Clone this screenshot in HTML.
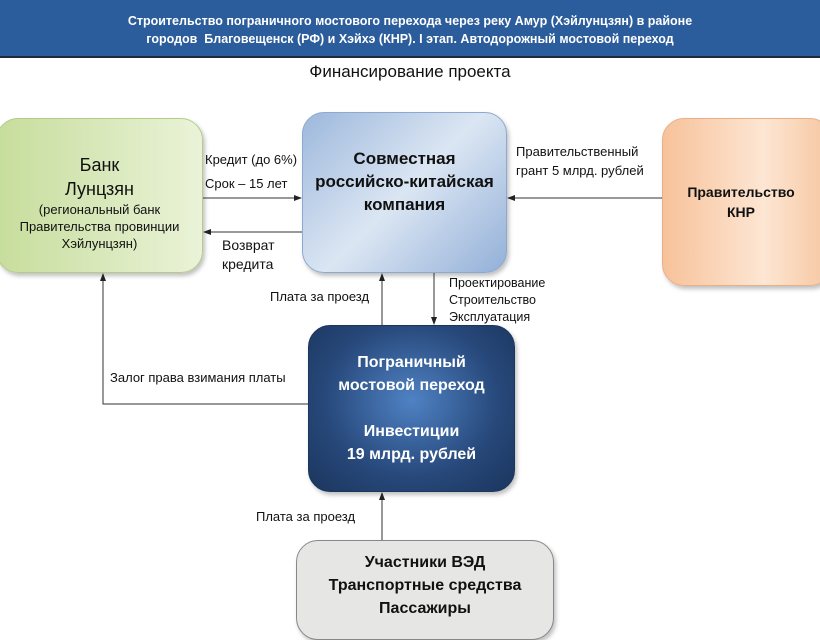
<!DOCTYPE html>
<html><head><meta charset="utf-8"><style>
body{margin:0;width:820px;height:617px;overflow:hidden;background:#fff;font-family:"Liberation Sans","DejaVu Sans",sans-serif;position:relative}
.hdr{position:absolute;left:0;top:0;width:820px;height:58px;background:#2b5c9c;border-bottom:2px solid #1c2a40;color:#fff;font-weight:bold;font-size:12.5px;text-align:center;line-height:18px;padding-top:12px;box-sizing:border-box}
.t{position:absolute;font-size:13px;color:#111;line-height:19px}
.box{position:absolute;border-radius:22px;display:flex;align-items:center;justify-content:center;text-align:center;box-sizing:border-box;box-shadow:2px 3px 4px rgba(0,0,0,.25)}
</style></head><body>
<div class="hdr">Строительство пограничного мостового перехода через реку Амур (Хэйлунцзян) в районе<br>городов&nbsp; Благовещенск (РФ) и Хэйхэ (КНР). I этап. Автодорожный мостовой переход</div>
<div class="t" style="left:0;width:820px;top:62px;text-align:center;font-size:17px">Финансирование проекта</div>

<div class="box" style="left:-4px;top:118px;width:207px;height:155px;background:linear-gradient(90deg,#c7dd9c,#eaf3d8);border:1px solid #b5cc88"><div style="font-size:18px;line-height:24px;color:#111;margin-top:14px">Банк<br>Лунцзян<div style="font-size:13px;line-height:17px">(региональный банк<br>Правительства провинции<br>Хэйлунцзян)</div></div></div>

<div class="box" style="left:302px;top:112px;width:205px;height:161px;background:linear-gradient(135deg,#9db8dc,#dbe6f3 50%,#93b0d8);border:1px solid #8ea9cf"><div style="font-size:17px;font-weight:bold;line-height:23px;color:#111;margin-top:-22px">Совместная<br>российско-китайская<br>компания</div></div>

<div class="box" style="left:662px;top:118px;width:170px;height:168px;background:linear-gradient(90deg,#f7c29a,#fde6d3 60%,#f6c6a0);border:1px solid #e8b088"><div style="font-size:14px;font-weight:bold;line-height:20px;color:#111;margin-right:12px">Правительство<br>КНР</div></div>

<div class="box" style="left:308px;top:325px;width:207px;height:167px;background:radial-gradient(ellipse at 50% 45%,#4f82c4,#27487a 60%,#1b355d);border:1px solid #1b355d"><div style="font-size:16px;font-weight:bold;line-height:23px;color:#fff">Пограничный<br>мостовой переход<br><br>Инвестиции<br>19 млрд. рублей</div></div>

<div class="box" style="left:296px;top:540px;width:258px;height:100px;background:#e6e6e4;border:1px solid #888;align-items:flex-start;padding-top:10px"><div style="font-size:16px;font-weight:bold;line-height:23px;color:#111">Участники ВЭД<br>Транспортные средства<br>Пассажиры</div></div>

<svg width="820" height="617" style="position:absolute;left:0;top:0" fill="none" stroke="#333" stroke-width="1">
<defs><marker id="a" markerWidth="8" markerHeight="8" refX="7" refY="4" orient="auto" markerUnits="userSpaceOnUse"><path d="M0,1 L8,4 L0,7z" fill="#222" stroke="none"/></marker></defs>
<line x1="203" y1="198" x2="301" y2="198" marker-end="url(#a)"/>
<line x1="302" y1="232" x2="204" y2="232" marker-end="url(#a)"/>
<line x1="662" y1="198" x2="508" y2="198" marker-end="url(#a)"/>
<line x1="382" y1="325" x2="382" y2="274" marker-end="url(#a)"/>
<line x1="434" y1="273" x2="434" y2="324" marker-end="url(#a)"/>
<polyline points="308,404 103,404 103,274" marker-end="url(#a)"/>
<line x1="382" y1="540" x2="382" y2="493" marker-end="url(#a)"/>
</svg>

<div class="t" style="left:205px;top:150px">Кредит (до 6%)</div>
<div class="t" style="left:205px;top:174px">Срок – 15 лет</div>
<div class="t" style="left:222px;top:236px;font-size:14px">Возврат<br>кредита</div>
<div class="t" style="left:516px;top:142px">Правительственный<br>грант 5 млрд. рублей</div>
<div class="t" style="left:270px;top:287px">Плата за проезд</div>
<div class="t" style="left:449px;top:275px;font-size:12.5px;line-height:17px">Проектирование<br>Строительство<br>Эксплуатация</div>
<div class="t" style="left:110px;top:368px">Залог права взимания платы</div>
<div class="t" style="left:256px;top:507px">Плата за проезд</div>
</body></html>
